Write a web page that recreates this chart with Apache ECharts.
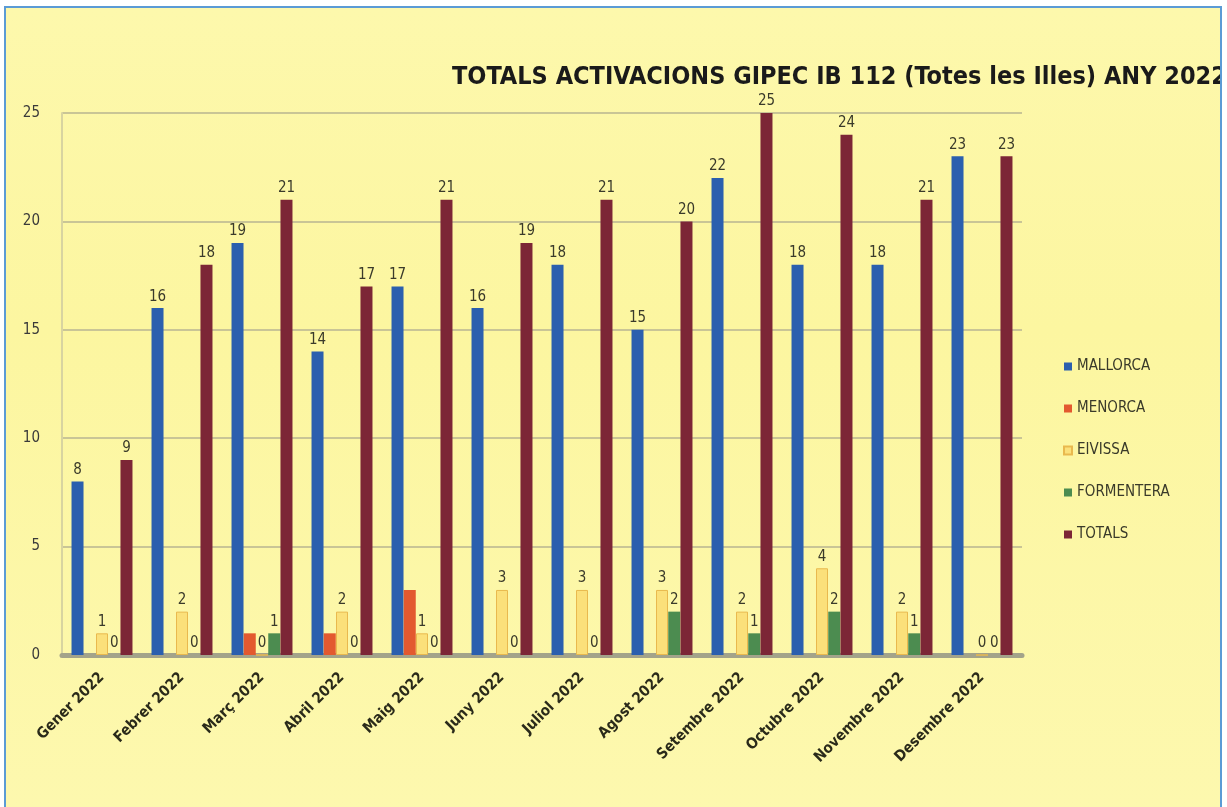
<!DOCTYPE html>
<html>
<head>
<meta charset="utf-8">
<script src="https://cdn.jsdelivr.net/npm/echarts@6/dist/echarts.min.js"></script>
<style>
  html, body { margin: 0; padding: 0; background: #ffffff; }
  #wrap {
    position: absolute; left: 4px; top: 6px; width: 1214px; height: 801px;
    border: 2px solid #5b9bd5; border-bottom: none; overflow: hidden;
    background: linear-gradient(#fdf8ac, #fcf6a0 40%, #fdf8ae);
  }
  #main { width: 1214px; height: 801px; }
</style>
</head>
<body>
<div id="wrap"><div id="main"></div></div>
<script>
const months = ["Gener 2022", "Febrer 2022", "Març 2022", "Abril 2022", "Maig 2022", "Juny 2022",
  "Juliol 2022", "Agost 2022", "Setembre 2022", "Octubre 2022", "Novembre 2022", "Desembre 2022"];
const mallorca = [8, 16, 19, 14, 17, 16, 18, 15, 22, 18, 18, 23];
const menorca = [0, 0, 1, 1, 3, 0, 0, 0, 0, 0, 0, 0];
const eivissa = [1, 2, 0, 2, 1, 3, 3, 3, 2, 4, 2, 0];
const formentera = [0, 0, 1, 0, 0, 0, 0, 2, 1, 2, 1, 0];
const totals = [9, 18, 21, 17, 21, 19, 21, 20, 25, 24, 21, 23];
const yTicks = [0, 5, 10, 15, 20, 25];

const font = '"Liberation Sans Narrow", "DejaVu Sans Condensed", sans-serif';

// etiqueta de valor a sobre
function lbl(show) {
  return { show: show, position: 'top', distance: 4, color: '#3a3a2a', fontSize: 15, fontFamily: font };
}
function bar(name, data, color, showLabel, border) {
  return {
    name: name, type: 'bar', data: data, barWidth: 12, barGap: '2%',
    itemStyle: { color: color, borderColor: border || color, borderWidth: border ? 1 : 0 },
    label: lbl(showLabel)
  };
}

const chart = echarts.init(document.getElementById('main'));
chart.setOption({
  animation: false,
  backgroundColor: 'transparent',
  title: {
    text: 'TOTALS ACTIVACIONS GIPEC IB 112 (Totes les Illes) ANY 2022',
    left: 441, top: 52,
    textStyle: { fontFamily: font, fontWeight: 'bold', fontSize: 25, color: '#1a1a1a' }
  },
  legend: {
    orient: 'vertical', left: 1052, top: 346, itemGap: 27, itemWidth: 8, itemHeight: 8,
    icon: 'rect',
    textStyle: { fontFamily: font, fontSize: 15, color: '#3a3a2a' },
    data: ['MALLORCA', 'MENORCA', 'EIVISSA', 'FORMENTERA', 'TOTALS']
  },
  grid: { left: 56, top: 105, width: 960, height: 542, containLabel: false },
  xAxis: {
    type: 'category', data: months,
    axisTick: { show: false },
    axisLine: { lineStyle: { color: '#a3a38a', width: 5 } },
    axisLabel: { rotate: 45, interval: 0, margin: 20, fontFamily: font, fontWeight: 'bold', fontSize: 15, color: '#2a2a1a' }
  },
  yAxis: {
    type: 'value', min: yTicks[0], max: yTicks[yTicks.length - 1], interval: 5,
    axisLine: { show: true, lineStyle: { color: '#d8d4a0', width: 2 } },
    axisTick: { show: false },
    axisLabel: { margin: 22, fontFamily: font, fontSize: 15, color: '#3a3a3a' },
    splitLine: { lineStyle: { color: '#c9c596', width: 2 } }
  },
  series: [
    bar('MALLORCA', mallorca, '#2b5fae', true),
    bar('MENORCA', menorca, '#e3592f', false),
    bar('EIVISSA', eivissa, '#fbe07a', true, '#e9b94e'),
    bar('FORMENTERA', formentera, '#4c8c50', true),
    bar('TOTALS', totals, '#7c2636', true)
  ]
});
</script>
</body>
</html>
